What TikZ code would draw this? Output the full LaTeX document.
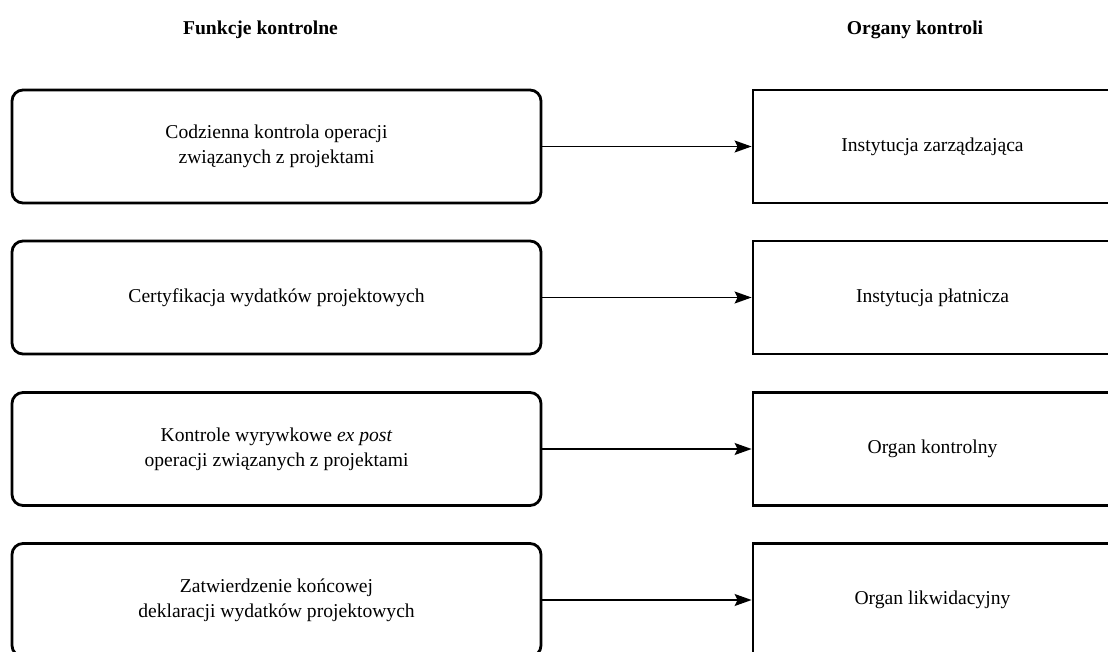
\documentclass[tikz,border=0pt]{standalone}
\usepackage{fontspec}
\setmainfont{Liberation Serif}
\usetikzlibrary{arrows.meta}

\begin{document}
\begin{tikzpicture}[x=0.5pt,y=-0.5pt,
    font=\fontsize{9.8}{12.5}\selectfont,
    funkcja/.style={draw,line width=1.4pt,rounded corners=5.5pt,
      minimum width=264.5pt,minimum height=56.5pt,align=center,inner sep=0pt},
    organ/.style={draw,line width=1.4pt,
      minimum width=179.5pt,minimum height=56.5pt,align=center,inner sep=0pt},
    strzalka/.style={-{Stealth[length=8.5pt,width=6pt,inset=1.5pt]},line width=0.7pt}]
    \useasboundingbox (0,0) rectangle (1108,652);

    % Headers
    \node[font=\fontsize{9.8}{12.5}\selectfont\bfseries] (hf) at (260.5,30) {Funkcje kontrolne};
    \node[font=\fontsize{9.8}{12.5}\selectfont\bfseries] (ho) at (915,30) {Organy kontroli};

    % Control functions
    \node[funkcja] (f1) at (276.5,146.5) {Codzienna kontrola operacji\\związanych z projektami};
    \node[funkcja] (f2) at (276.5,297.5) {Certyfikacja wydatków projektowych};
    \node[funkcja] (f3) at (276.5,449) {Kontrole wyrywkowe \textit{ex post}\\operacji związanych z projektami};
    \node[funkcja] (f4) at (276.5,600) {Zatwierdzenie końcowej\\deklaracji wydatków projektowych};

    % Control bodies
    \node[organ] (o1) at (932.5,146.5) {Instytucja zarządzająca};
    \node[organ] (o2) at (932.5,297.5) {Instytucja płatnicza};
    \node[organ] (o3) at (932.5,449) {Organ kontrolny};
    \node[organ] (o4) at (932.5,600) {Organ likwidacyjny};

    % Arrows
    \draw[strzalka] (f1) -- (o1);
    \draw[strzalka] (f2) -- (o2);
    \draw[strzalka] (f3) -- (o3);
    \draw[strzalka] (f4) -- (o4);
\end{tikzpicture}
\end{document}
